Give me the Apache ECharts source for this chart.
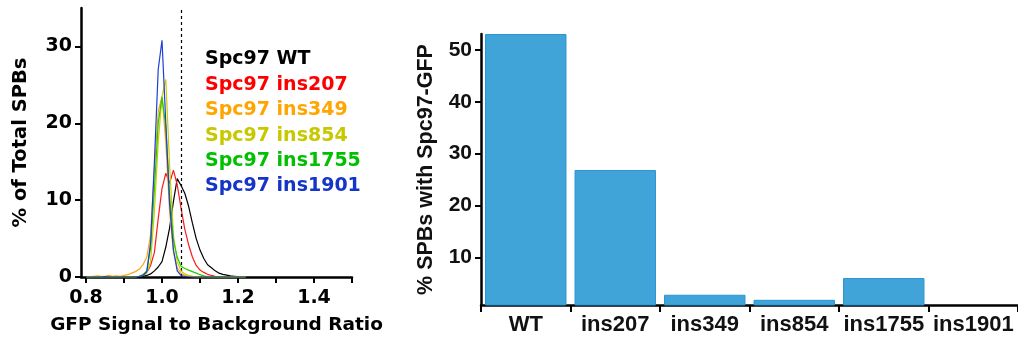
<!DOCTYPE html>
<html>
<head>
<meta charset="utf-8">
<script src="https://cdn.jsdelivr.net/npm/echarts@6/dist/echarts.min.js"></script>
<style>html,body{margin:0;padding:0;background:#fff;}#c{width:1018px;height:348px;}</style>
</head>
<body>
<div id="c"></div>
<script>
// ---- Left panel: histogram of GFP signal / background ratio ----
const ratioX = [0.80,0.81,0.82,0.83,0.84,0.85,0.86,0.87,0.88,0.89,0.90,0.91,0.92,0.93,0.94,0.95,0.96,0.97,0.98,0.99,1.00,1.01,1.02,1.03,1.04,1.05,1.06,1.07,1.08,1.09,1.10,1.11,1.12,1.13,1.14,1.15,1.16,1.17,1.18,1.19,1.20,1.21,1.22];
const wtPct     = [0,0,0,0,0,0,0,0,0,0,0,0,0,0.05,0.05,0.1,0.2,0.4,0.8,1.3,2.0,3.9,6.4,9.8,12.8,11.9,10.9,9.2,7.0,5.0,3.5,2.4,1.6,1.2,0.8,0.5,0.35,0.25,0.15,0.1,0.05,0,0];
const ins207Pct = [0,0,0,0,0,0,0,0,0,0,0,0,0,0.05,0.1,0.3,0.6,1.5,3.2,7.6,11.5,13.5,12.2,13.9,12.0,9.0,6.2,4.2,2.6,1.5,0.9,0.6,0.35,0.2,0.1,0.05,0,0,0,0,0,0,0];
const ins349Pct = [0.1,0.05,0.1,0.15,0.1,0.1,0.2,0.1,0.15,0.1,0.2,0.3,0.5,0.7,1.0,1.6,2.6,5.5,14.0,21.5,23.5,17.5,8.5,3.2,1.2,0.5,0.2,0.1,0,0,0,0,0,0,0,0,0,0,0,0,0,0,0];
const ins854Pct = [0,0,0,0,0,0,0,0,0,0,0,0,0,0,0.1,0.2,0.5,2.0,8.5,17.5,23.5,25.7,14.5,5.5,2.0,0.8,0.4,0.2,0.1,0,0,0,0,0,0,0,0,0,0,0,0,0,0];
const ins1755Pct= [0,0,0,0,0,0,0,0,0,0,0,0,0,0,0.1,0.3,0.8,3.8,11.5,20.0,23.4,19.5,10.5,4.8,2.6,1.4,1.1,0.9,0.7,0.5,0.3,0.15,0.05,0,0,0,0,0,0,0,0,0,0];
const ins1901Pct= [0,0,0,0,0,0.05,0,0,0,0,0,0,0,0,0.05,0.2,0.7,4.5,15.0,27.0,30.8,20.0,9.5,3.6,0.8,0.2,0.05,0,0,0,0,0,0,0,0,0,0,0,0,0,0,0,0];
const histNames = ['Spc97 WT','Spc97 ins207','Spc97 ins349','Spc97 ins854','Spc97 ins1755','Spc97 ins1901'];
const histValues = [wtPct, ins207Pct, ins349Pct, ins854Pct, ins1755Pct, ins1901Pct];
const thresholdX = 1.05;
const ratioTickLabels = [0.8, 1.0, 1.2, 1.4];
const ratioTicks = [0.8, 0.9, 1.0, 1.1, 1.2, 1.3, 1.4, 1.5];
const pctTicks = [0, 10, 20, 30];

// ---- Right panel: % SPBs with Spc97-GFP ----
const mutants = ['WT','ins207','ins349','ins854','ins1755','ins1901'];
const spbPct = [53.1, 26.85, 2.78, 1.8, 6.0, 0];
const spbTicks = [10, 20, 30, 40, 50];

const lineColors = ['#000000','#ff1a1a','#ffa31a','#cccc00','#22cc00','#1a3fd6'];
const legendColors = ['#000000','#ff0000','#ffa500','#c8c800','#00c000','#1535c8'];

const leftFont = 'DejaVu Sans';
const rightFont = 'Liberation Sans';

const chart = echarts.init(document.getElementById('c'), null, {renderer:'canvas'});

const lineSeries = histNames.map((n, i) => ({
  name: n,
  type: 'line',
  xAxisIndex: 0, yAxisIndex: 0,
  data: ratioX.map((x, j) => [x, histValues[i][j]]),
  showSymbol: false,
  symbol: 'none',
  lineStyle: {color: lineColors[i], width: 1.2},
  itemStyle: {color: lineColors[i]},
  z: 2 + i,
  silent: true,
  animation: false
}));
lineSeries[0].markLine = {
  silent: true,
  symbol: ['none','none'],
  label: {show: false},
  lineStyle: {color: '#000', type: [3, 3], width: 1.2},
  data: [{xAxis: thresholdX}],
  animation: false
};

const option = {
  animation: false,
  backgroundColor: '#fff',
  grid: [
    {left: 81, right: 666, top: 8, bottom: 71},
    {left: 481, right: -4, top: 34, bottom: 43}
  ],
  legend: {
    orient: 'vertical',
    left: 195,
    top: 45,
    icon: 'none',
    itemWidth: 0,
    itemHeight: 14,
    itemGap: 6.4,
    selectedMode: false,
    textStyle: {fontFamily: leftFont, fontWeight: 'bold', fontSize: 19, lineHeight: 19},
    data: histNames.map((n, i) => ({name: n, textStyle: {color: legendColors[i]}}))
  },
  xAxis: [
    {
      type: 'value', gridIndex: 0,
      min: 0.7868, max: 1.5,
      name: 'GFP Signal to Background Ratio',
      nameLocation: 'middle', nameGap: 39,
      nameTextStyle: {fontFamily: leftFont, fontWeight: 'bold', fontSize: 18.5, color: '#000'},
      axisLine: {show: true, lineStyle: {color: '#000', width: 2.5}},
      axisTick: {show: true, length: 6, lineStyle: {color: '#000', width: 2}, customValues: ratioTicks},
      axisLabel: {customValues: ratioTickLabels, margin: 12, fontFamily: leftFont, fontWeight: 'bold', fontSize: 19, color: '#000',
        formatter: v => v.toFixed(1)},
      splitLine: {show: false}
    },
    {
      type: 'category', gridIndex: 1,
      data: mutants,
      axisLine: {show: true, lineStyle: {color: '#000', width: 2.5}},
      axisTick: {show: true, interval: 0, length: 7, lineStyle: {color: '#000', width: 2}},
      axisLabel: {interval: 0, margin: 9, fontFamily: rightFont, fontWeight: 'bold', fontSize: 22, color: '#111'},
      splitLine: {show: false}
    }
  ],
  yAxis: [
    {
      type: 'value', gridIndex: 0,
      min: 0, max: 35,
      name: '% of Total SPBs',
      nameLocation: 'middle', nameGap: 50,
      nameRotate: 90,
      nameTextStyle: {fontFamily: leftFont, fontWeight: 'bold', fontSize: 19.5, color: '#000'},
      axisLine: {show: true, lineStyle: {color: '#000', width: 2.5}},
      axisTick: {show: true, length: 6, lineStyle: {color: '#000', width: 2}, customValues: pctTicks},
      axisLabel: {customValues: pctTicks, margin: 9, fontFamily: leftFont, fontWeight: 'bold', fontSize: 19, color: '#000'},
      splitLine: {show: false}
    },
    {
      type: 'value', gridIndex: 1,
      min: 0.8, max: 53.1,
      name: '% SPBs with Spc97-GFP',
      nameLocation: 'middle', nameGap: 44,
      nameRotate: 90,
      nameTextStyle: {fontFamily: rightFont, fontWeight: 'bold', fontSize: 21.5, color: '#111'},
      axisLine: {show: true, lineStyle: {color: '#000', width: 2.5}},
      axisTick: {show: true, length: 6, lineStyle: {color: '#000', width: 2}, customValues: spbTicks},
      axisLabel: {customValues: spbTicks, margin: 9, fontFamily: rightFont, fontWeight: 'bold', fontSize: 21, color: '#111'},
      splitLine: {show: false}
    }
  ],
  series: lineSeries.concat([{
    name: 'spb',
    type: 'bar',
    xAxisIndex: 1, yAxisIndex: 1,
    data: spbPct,
    barCategoryGap: '9%',
    itemStyle: {color: '#40a4d8', borderColor: '#2a95d2', borderWidth: 1},
    silent: true,
    animation: false
  }])
};
chart.setOption(option);
</script>
</body>
</html>
